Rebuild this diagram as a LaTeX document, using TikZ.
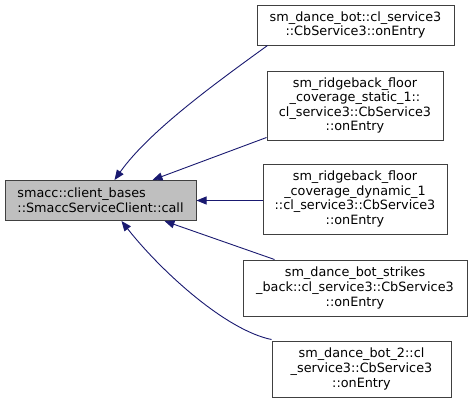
\documentclass[tikz,border=0pt]{standalone}
\usepackage{fontspec}
\setmainfont{DejaVu Sans}
\usetikzlibrary{arrows.meta}
\definecolor{edgeblue}{HTML}{191970}
\definecolor{boxborder}{HTML}{404040}
\definecolor{mainfill}{HTML}{BFBFBF}
\begin{document}
\begin{tikzpicture}[x=1pt,y=-1pt,
  box/.style={draw=boxborder,line width=1pt,rectangle,inner sep=0pt,align=center,
    font=\fontsize{12.8}{14.6}\selectfont},
  mainbox/.style={box,fill=mainfill,align=left},
  edge/.style={draw=edgeblue,line width=0.9pt,-{Triangle[length=10pt,width=8pt]}}]
\useasboundingbox (0,0) rectangle (472,402);
\node[mainbox,minimum width=191pt,minimum height=40pt] (main) at (100.5,200.5)
  {smacc::client\_bases\\::SmaccServiceClient::call};
\node[box,minimum width=197pt,minimum height=40pt] (n1) at (355.5,25)
  {sm\_dance\_bot::cl\_service3\\::CbService3::onEntry};
\node[box,minimum width=176pt,minimum height=69pt] (n2) at (355,105.5)
  {sm\_ridgeback\_floor\\\_coverage\_static\_1::\\cl\_service3::CbService3\\::onEntry};
\node[box,minimum width=184pt,minimum height=70pt] (n3) at (355,199)
  {sm\_ridgeback\_floor\\\_coverage\_dynamic\_1\\::cl\_service3::CbService3\\::onEntry};
\node[box,minimum width=224pt,minimum height=56pt] (n4) at (355,288)
  {sm\_dance\_bot\_strikes\\\_back::cl\_service3::CbService3\\::onEntry};
\node[box,minimum width=179pt,minimum height=56pt] (n5) at (361.5,369)
  {sm\_dance\_bot\_2::cl\\\_service3::CbService3\\::onEntry};
\draw[edge] ([xshift=11pt]n1.south west) .. controls (220,80) and (150,130) .. ([xshift=110pt]main.north west);
\draw[edge] ([yshift=3pt]n2.south west) -- ([xshift=148pt]main.north west);
\draw[edge] (n3.west |- main.east) -- (main.east);
\draw[edge] ([xshift=32pt]n4.north west) -- ([xshift=160pt]main.south west);
\draw[edge] ([yshift=1pt]n5.north west) .. controls (225,330) and (160,270) .. ([xshift=117pt]main.south west);
\end{tikzpicture}
\end{document}
